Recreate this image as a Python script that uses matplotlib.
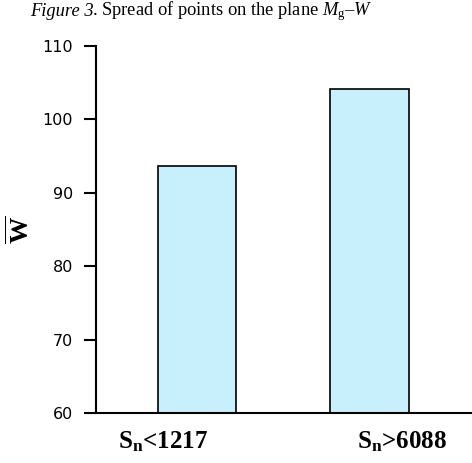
import matplotlib.pyplot as plt

# values
groups = ['$\\mathbf{S_n}$<1217', '$\\mathbf{S_n}$>6088']
w_mean = [93.6, 104.1]
y_ticks = [60, 70, 80, 90, 100, 110]

plt.rcParams['mathtext.fontset'] = 'custom'
plt.rcParams['mathtext.rm'] = 'Liberation Serif'
plt.rcParams['mathtext.it'] = 'Liberation Serif:italic'
plt.rcParams['mathtext.bf'] = 'Liberation Serif:bold'

fig = plt.figure(figsize=(4.72, 4.63), dpi=100)
ax = fig.add_axes([96 / 472, 50 / 463, 376 / 472, 367 / 463])

x = [0, 1]
ax.bar(x, w_mean, width=0.456, bottom=0, color='#c8f0fc',
       edgecolor='black', linewidth=1.2, zorder=2)

ax.set_ylim(60, 110)
ax.set_xlim(-0.586, 1.596)
ax.set_yticks(y_ticks)
ax.tick_params(axis='y', length=8.6, width=1.5, pad=8, labelsize=11.5)
ax.set_xticks([-0.197, 1.19])
ax.set_xticklabels(groups, fontfamily='Liberation Serif', fontweight='bold', fontsize=18)
ax.tick_params(axis='x', length=0, pad=12)

for s in ['top', 'right']:
    ax.spines[s].set_visible(False)
for s in ['left', 'bottom']:
    ax.spines[s].set_linewidth(1.5)

# y label: bold W with a bar over it
fig.text(21 / 472, 1 - 230 / 463, '$\\overline{\\mathbf{W}}$', fontsize=19,
         rotation=90, ha='center', va='center')

# caption: italic "Figure 3" then the rest
base = 1 - 15.5 / 463
t1 = fig.text(30 / 472, base, 'Figure 3', fontfamily='Liberation Serif',
              fontstyle='italic', fontsize=13.3, ha='left', va='baseline')
fig.canvas.draw()
bb = t1.get_window_extent()
fig.text((bb.x1 - 1.5) / 472, base,
         '. Spread of points on the plane $M_{\\rm g}$–$W$',
         fontfamily='Liberation Serif', fontsize=13.3, ha='left', va='baseline')

fig.savefig('out.png', dpi=100)
